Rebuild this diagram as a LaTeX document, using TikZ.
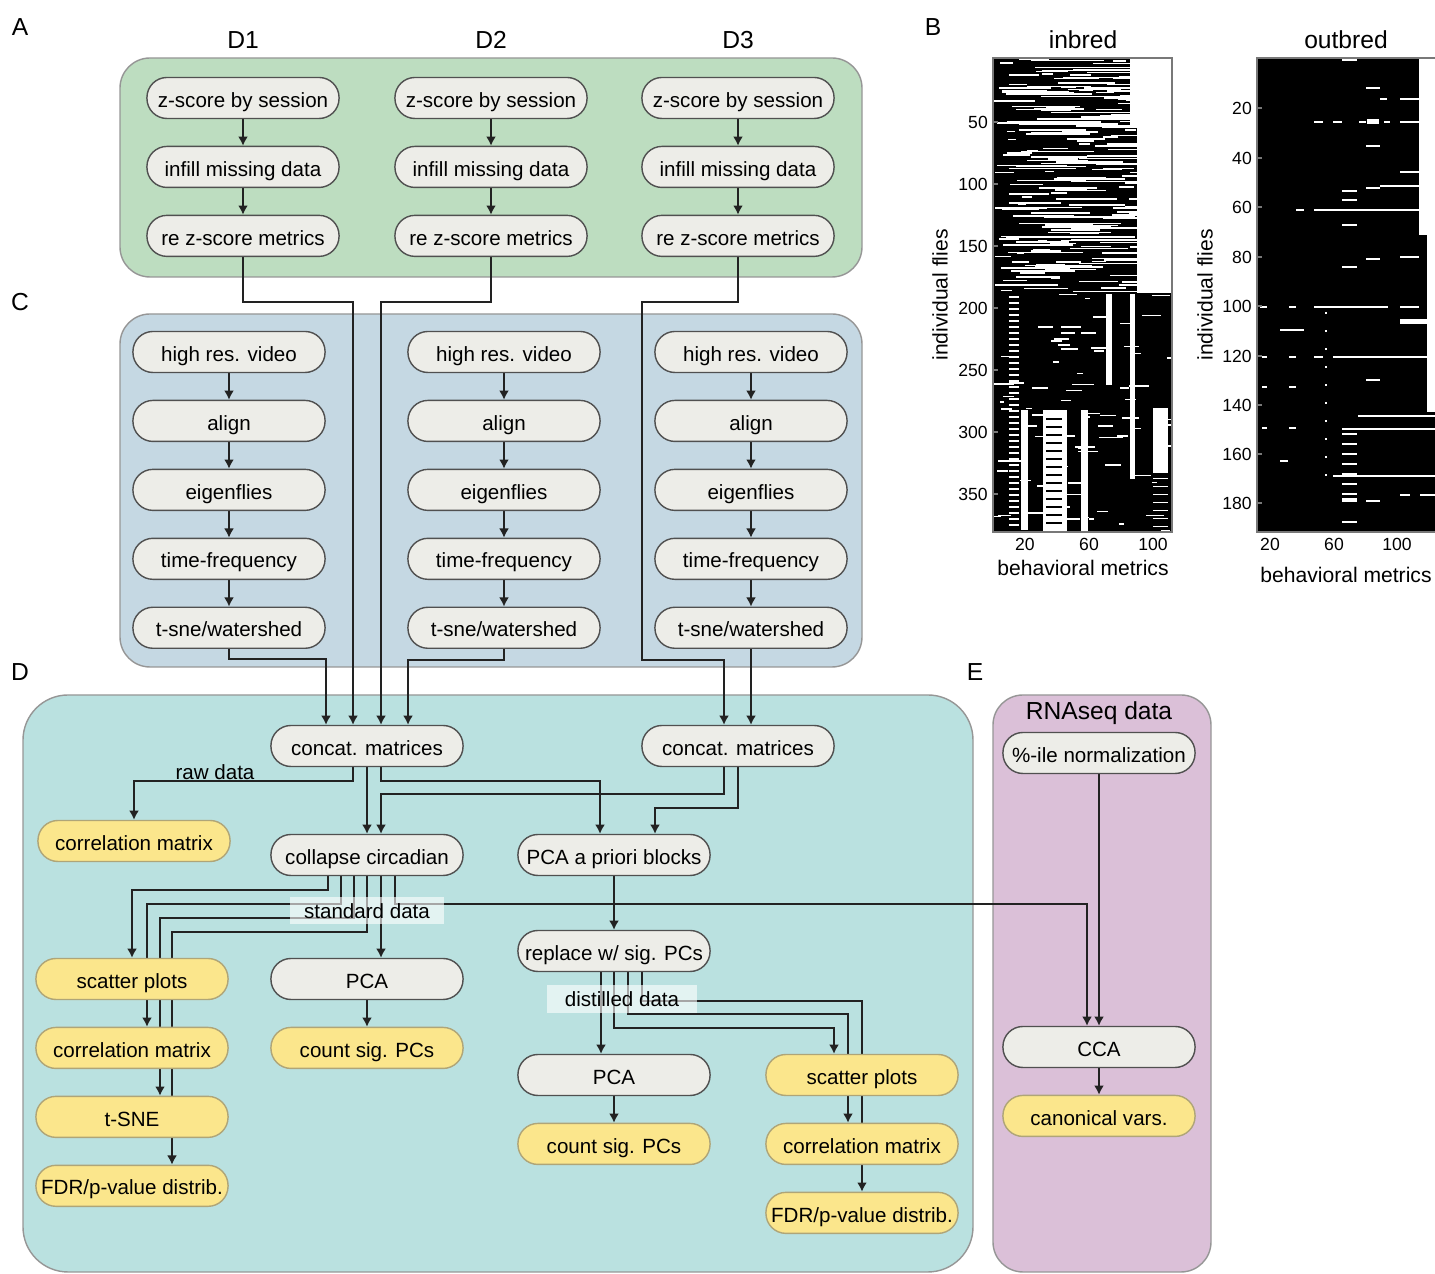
\documentclass[tikz,border=0pt]{standalone}
\usepackage{fontspec}
\setmainfont{Liberation Sans}
\usetikzlibrary{arrows.meta,calc,positioning}
\definecolor{greenpanel}{RGB}{189,221,192}
\definecolor{bluepanel}{RGB}{197,216,227}
\definecolor{tealpanel}{RGB}{186,225,224}
\definecolor{pinkpanel}{RGB}{219,192,216}
\definecolor{paneledge}{RGB}{150,150,150}
\definecolor{procfill}{RGB}{237,237,232}
\definecolor{procedge}{RGB}{80,80,80}
\definecolor{resfill}{RGB}{251,230,140}
\definecolor{resedge}{RGB}{175,165,120}
\definecolor{wire}{RGB}{34,34,34}
\definecolor{mapedge}{RGB}{120,120,120}
\pgfdeclarelayer{panels}
\pgfdeclarelayer{wires}
\pgfsetlayers{panels,wires,main}

\begin{document}
\begin{tikzpicture}[
        x=0.01cm, y=-0.01cm,
        node distance=0.265cm,
        every node/.style={font=\fontsize{5.85}{7}\selectfont},
        proc/.style={draw=procedge, fill=procfill, rounded corners=2mm,
            minimum width=1.92cm, minimum height=0.41cm, inner xsep=1pt,
            inner ysep=0pt, text height=0.72em, text depth=0.2em, line width=0.4pt},
        result/.style={proc, draw=resedge, fill=resfill},
        panel/.style={draw=paneledge, line width=0.4pt, rounded corners=3mm},
        flow/.style={draw=wire, line width=0.45pt, -{Latex[length=2.6pt,width=2.8pt]}},
        tag/.style={fill=white, fill opacity=0.6, text opacity=1, inner sep=0pt,
            minimum width=1.54cm, minimum height=0.27cm},
        heading/.style={font=\fontsize{7}{8}\selectfont},
        axislbl/.style={font=\fontsize{6}{7}\selectfont},
        ticklbl/.style={font=\fontsize{5}{6}\selectfont, inner sep=1pt}
    ]
    \useasboundingbox (0,0) rectangle (1435,1274);

    \begin{pgfonlayer}{panels}
        \draw[panel, fill=greenpanel] (120,58) rectangle (862,277);
        \draw[panel, fill=bluepanel] (120,314) rectangle (862,667);
        \draw[panel, fill=tealpanel, rounded corners=4.5mm] (23,695) rectangle (973,1272);
        \draw[panel, fill=pinkpanel] (993,695) rectangle (1211,1272);
    \end{pgfonlayer}

    % panel letters and headers
    \node[heading] (lblA) at (20,27) {A};
    \node[heading] (lblB) at (933,27) {B};
    \node[heading] (lblC) at (20,302) {C};
    \node[heading] (lblD) at (20,672) {D};
    \node[heading] (lblE) at (975,672) {E};
    \node[heading] (dsa) at (243,40) {D1};
    \node[heading] (dsb) at (491,40) {D2};
    \node[heading] (dsc) at (738,40) {D3};

    % A: metric preprocessing per data set
    \foreach \c/\x in {1/243,2/491,3/738}{
        \node[proc] (zs\c) at (\x,98) {z-score by session};
        \node[proc, below=of zs\c] (im\c) {infill missing data};
        \node[proc, below=of im\c] (rz\c) {re z-score metrics};
    }

    % C: video pipeline per data set
    \foreach \c/\x in {1/229,2/504,3/751}{
        \node[proc] (hv\c) at (\x,352) {high res. video};
        \node[proc, below=of hv\c] (al\c) {align};
        \node[proc, below=of al\c] (ef\c) {eigenflies};
        \node[proc, below=of ef\c] (tf\c) {time-frequency};
        \node[proc, below=of tf\c] (ts\c) {t-sne/watershed};
    }

    % D: analyses
    \node[proc] (cm1) at (367,746) {concat. matrices};
    \node[proc] (cm2) at (738,746) {concat. matrices};
    \node[result] (rawcorr) at (134,841) {correlation matrix};
    \node[anchor=base, inner sep=0pt] (rawlbl) at (215,780) {raw data};
    \node[proc] (cc) at (367,855) {collapse circadian};
    \node[proc] (pab) at (614,855) {PCA a priori blocks};
    \node[proc] (rsp) at (614,951) {replace w/ sig. PCs};
    \node[result] (sp1) at (132,979) {scatter plots};
    \node[result, below=of sp1] (cor1) {correlation matrix};
    \node[result, below=of cor1] (tsne) {t-SNE};
    \node[result, below=of tsne] (fdr1) {FDR/p-value distrib.};
    \node[proc] (pca1) at (367,979) {PCA};
    \node[result, below=of pca1] (csp1) {count sig. PCs};
    \node[proc] (pca2) at (614,1075) {PCA};
    \node[result, below=of pca2] (csp2) {count sig. PCs};
    \node[result] (sp2) at (862,1075) {scatter plots};
    \node[result, below=of sp2] (cor2) {correlation matrix};
    \node[result, below=of cor2] (fdr2) {FDR/p-value distrib.};
    \node[tag] (stdlbl) at (367,911) {standard data};
    \node[tag, minimum width=1.5cm, minimum height=0.28cm] (dstlbl) at (622,999) {distilled data};

    % E: expression data
    \node[heading] (rnatitle) at (1099,713) {RNAseq data};
    \node[proc] (pct) at (1099,753) {\%-ile normalization};
    \node[proc] (cca) at (1099,1047) {CCA};
    \node[result, below=of cca] (cvar) {canonical vars.};

    \begin{pgfonlayer}{wires}
        \foreach \c in {1,2,3}{
            \draw[flow] (zs\c) -- (im\c);
            \draw[flow] (im\c) -- (rz\c);
            \draw[flow] (hv\c) -- (al\c);
            \draw[flow] (al\c) -- (ef\c);
            \draw[flow] (ef\c) -- (tf\c);
            \draw[flow] (tf\c) -- (ts\c);
        }
        % into the concat nodes
        \draw[flow] (rz1.south) |- (353,302) -| ($(cm1.north)+(-14,0)$);
        \draw[flow] (rz2.south) |- (381,302) -| ($(cm1.north)+(14,0)$);
        \draw[flow] (rz3.south) |- (642,302) |- (724,660) -| ($(cm2.north)+(-14,0)$);
        \draw[flow] (ts1.south) |- (326,659) -| ($(cm1.north)+(-41,0)$);
        \draw[flow] (ts2.south) |- (408,660) -| ($(cm1.north)+(41,0)$);
        \draw[flow] (ts3) -- (ts3 |- cm2.north);
        % out of the concat nodes
        \draw[flow] ($(cm1.south)+(-14,0)$) -- ++(0,14) -| (rawcorr.north);
        \draw[flow] (cm1) -- (cc);
        \draw[flow] ($(cm1.south)+(14,0)$) -- ++(0,14) -| ($(pab.north)+(-14,0)$);
        \draw[flow] ($(cm2.south)+(-14,0)$) -- ++(0,27) -| ($(cc.north)+(14,0)$);
        \draw[flow] (cm2.south) -- ++(0,41) -| ($(pab.north)+(41,0)$);
        % standard data
        \draw[flow] ($(cc.south)+(-39,0)$) -- ++(0,14) -| (sp1.north);
        \draw[flow] ($(cc.south)+(-26,0)$) -- ++(0,28) -| ($(cor1.north)+(15,0)$);
        \draw[flow] ($(cc.south)+(-13,0)$) -- ++(0,42) -| ($(tsne.north)+(28,0)$);
        \draw[flow] (cc.south) -- ++(0,56) -| ($(fdr1.north)+(40,0)$);
        \draw[flow] ($(cc.south)+(14,0)$) -- ($(pca1.north)+(14,0)$);
        \draw[flow] ($(cc.south)+(28,0)$) -- ++(0,28) -| ($(cca.north)+(-12,0)$);
        \draw[flow] (pca1) -- (csp1);
        % distilled data
        \draw[flow] (pab) -- (rsp);
        \draw[flow] ($(rsp.south)+(-13,0)$) -- ($(pca2.north)+(-13,0)$);
        \draw[flow] (rsp.south) -- ++(0,56) -| ($(sp2.north)+(-28,0)$);
        \draw[flow] ($(rsp.south)+(14,0)$) -- ++(0,42) -| ($(cor2.north)+(-14,0)$);
        \draw[flow] ($(rsp.south)+(28,0)$) -- ++(0,29) -| (fdr2.north);
        \draw[flow] (pca2) -- (csp2);
        % CCA
        \draw[flow] (pct) -- (cca);
        \draw[flow] (cca) -- (cvar);
    \end{pgfonlayer}

    % B: inbred matrix
    \node[heading] (inbtitle) at (1083,40) {inbred};
    \fill[black] (993,58) rectangle (1172,532);
    \begin{scope}
        \clip (993,58) rectangle (1172,532);
        \fill[white] (1130,58) rectangle (1172,128);
        \fill[white] (1137,128) rectangle (1172,293);
        \pgfmathsetseed{7}
        \foreach \k in {1,...,240}{
            \pgfmathsetmacro\yy{58+233*rnd}
            \pgfmathsetmacro\xx{993+137*rnd}
            \pgfmathsetmacro\ll{6+70*rnd}
            \fill[white] (\xx,\yy) rectangle ++(\ll,1.5);
        }
        \foreach \k in {1,...,80}{
            \pgfmathsetmacro\yy{293+237*rnd}
            \pgfmathsetmacro\xx{993+175*rnd}
            \pgfmathsetmacro\ll{4+20*rnd}
            \fill[white] (\xx,\yy) rectangle ++(\ll,1.5);
        }
        \foreach \yy in {296,302,...,528}
            \fill[white] (1009,\yy) rectangle (1019,{\yy+2.5});
        \fill[white] (1021,410) rectangle (1028,530);
        \fill[white] (1043,410) rectangle (1067,532);
        \fill[white] (1081,410) rectangle (1088,532);
        \fill[white] (1106,294) rectangle (1112,385);
        \fill[white] (1130,294) rectangle (1135,479);
        \fill[white] (1153,408) rectangle (1168,473);
        \foreach \yy in {418,426,...,526}{
            \fill[black] (1046,\yy) rectangle (1062,{\yy+2.5});
            \fill[white] (1153,{\yy+60}) rectangle (1168,{\yy+61.5});
        }
    \end{scope}
    \draw[mapedge, line width=0.4pt] (993,58) rectangle (1172,532);
    \foreach \v/\yy in {50/122,100/184,150/246,200/308,250/370,300/432,350/494}{
        \node[ticklbl, anchor=east] (ib\v) at (992,\yy) {\v};
        \draw[mapedge] (993,\yy) -- ++(5,0);
    }
    \foreach \v/\xx in {20/1025,60/1089,100/1153}
        \node[ticklbl] (ibx\v) at (\xx,544) {\v};
    \node[axislbl] (inbx) at (1083,568) {behavioral metrics};
    \node[axislbl, rotate=90] (inby) at (940,295) {individual flies};

    % B: outbred matrix
    \node[heading] (outtitle) at (1346,40) {outbred};
    \fill[black] (1257,58) rectangle (1437,532);
    \begin{scope}
        \clip (1257,58) rectangle (1437,532);
        \fill[white] (1419,58) rectangle (1437,235);
        \fill[white] (1427,235) rectangle (1437,412);
        \foreach \xa/\xb/\yy/\hh in {1342/1357/59/2, 1366/1380/87/2, 1380/1387/98/2,
                1400/1419/98/2, 1314/1323/121/2, 1333/1342/121/2, 1359/1366/121/2,
                1367/1379/119/5, 1384/1390/121/2, 1400/1419/121/2, 1366/1380/145/2,
                1400/1419/171/2, 1342/1357/190/2, 1366/1380/187/2, 1380/1419/185/2,
                1342/1357/199/2, 1296/1304/209/2, 1314/1419/209/2, 1342/1357/224/2,
                1400/1419/256/2, 1366/1380/258/2, 1342/1357/266/2, 1260/1267/306/2,
                1289/1296/306/2, 1314/1388/306/2, 1400/1419/306/2, 1400/1427/319/5,
                1280/1304/329/2, 1262/1267/356/2, 1289/1296/356/2, 1314/1323/356/2,
                1333/1427/356/2, 1366/1380/379/2, 1262/1267/386/2, 1289/1296/386/2,
                1358/1437/415/2, 1262/1267/427/2, 1289/1296/427/2, 1342/1437/428/2,
                1280/1288/460/2, 1333/1437/475/2, 1400/1410/494/2, 1420/1437/494/2,
                1342/1357/498/4, 1366/1380/500/2, 1342/1357/521/2}
            \fill[white] (\xa,\yy) rectangle (\xb,{\yy+\hh});
        \foreach \yy in {433,443,...,493}
            \fill[white] (1342,\yy) rectangle (1357,{\yy+2.5});
        \foreach \yy in {312,330,...,480}
            \fill[white] (1325,\yy) rectangle (1326.5,{\yy+2});
    \end{scope}
    \draw[mapedge, line width=0.4pt] (1257,58) rectangle (1437,532);
    \foreach \v/\yy in {20/108,40/158,60/207,80/257,100/306,120/356,140/405,160/454,180/503}{
        \node[ticklbl, anchor=east] (ob\v) at (1256,\yy) {\v};
        \draw[mapedge] (1257,\yy) -- ++(5,0);
    }
    \foreach \v/\xx in {20/1270,60/1334,100/1397}
        \node[ticklbl] (obx\v) at (\xx,544) {\v};
    \node[axislbl] (outx) at (1346,575) {behavioral metrics};
    \node[axislbl, rotate=90] (outy) at (1205,295) {individual flies};
\end{tikzpicture}
\end{document}
